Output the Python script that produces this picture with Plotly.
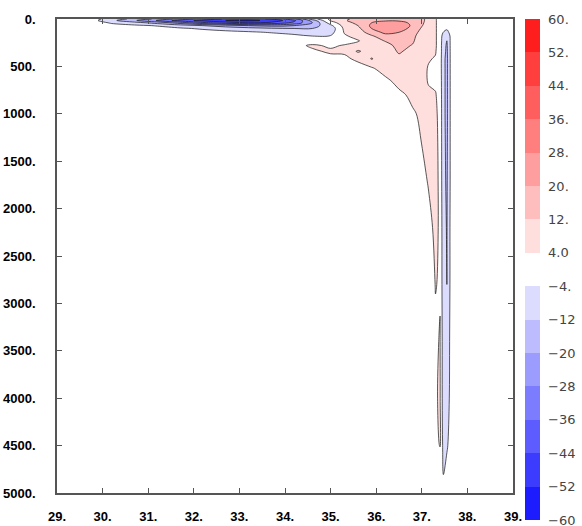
import plotly.graph_objects as go

# Longitude / latitude positions of the grid columns
X_COORDS = [29.0, 29.8, 30.2, 30.7, 31.2, 31.7, 32.2, 32.7, 33.2, 33.7, 34.2, 34.6,
            35.0, 35.3, 35.6, 35.9, 36.2, 36.5, 36.8, 37.0, 37.15, 37.3, 37.4,
            37.47, 37.55, 37.63, 37.75, 39.0]
# Depth of the grid rows (m)
DEPTHS = [0, 15, 40, 70, 100, 140, 180, 230, 280, 340, 420, 520, 650, 800, 1000,
          1300, 1700, 2200, 2800, 3400, 4000, 4500, 4800, 5000]

COL_29_0 = [0] * 24
COL_29_8 = [-1, -2] + [0] * 22
COL_30_2 = [-8, -10, -5, -1] + [0] * 20
COL_30_7 = [-14, -19, -9, -2.5] + [0] * 20
COL_31_2 = [-22, -29, -15, -4.5, -1.5] + [0] * 19
COL_31_7 = [-31, -40, -24, -8, -3] + [0] * 19
COL_32_2 = [-39, -47, -34, -12, -5, -1] + [0] * 18
COL_32_7 = [-45, -52, -40, -16, -7, -2] + [0] * 18
COL_33_2 = [-47, -54, -44, -20, -9, -3] + [0] * 18
COL_33_7 = [-43, -50, -42, -22, -11, -4.5, -1] + [0] * 17
COL_34_2 = [-30, -38, -34, -20, -12, -6, -2.5, 1, 2] + [0] * 15
COL_34_6 = [-8, -16, -20, -16, -12, -8, -4, 0, 5, 3, 1] + [0] * 13
COL_35_0 = [6, 5, 0, -6, -9, -7, -3.5, 0, 3, 5, 2] + [0] * 13
COL_35_3 = [10, 11, 9, 7, 5.5, 4.5, 3, 1.5, 4.5, 5.5, 2] + [0] * 13
COL_35_6 = [15, 16, 14, 12, 10, 8, 6.5, 3.5, 6, 13, 6] + [0] * 13
COL_35_9 = [16, 18, 20, 21.5, 20, 16, 11, 8, 7, 8, 12.5, 3] + [0] * 12
COL_36_2 = [17, 19, 23, 25, 25, 22, 17, 12.5, 9, 7.5, 7, 8, 2] + [0] * 11
COL_36_5 = [17, 19, 22.5, 24, 23, 20, 18, 16, 14.5, 13, 10, 8, 7, 2] + [0] * 10
COL_36_8 = [16, 17, 18.5, 19, 18, 16, 14, 13, 11.5, 9.5, 8, 7, 6.5, 6, 3] + [0] * 9
COL_37_0 = [14, 14, 13.5, 12.5, 11, 9, 8, 7.5, 7, 6.5, 6, 6, 6, 6, 5.5, 4.2, 2] + [0] * 7
COL_37_15 = [9, 9, 8.5, 8, 7.5, 7, 6.5, 6, 6, 5, 4.5, 3.5, 3.5, 5, 6, 6, 4.6, 2, 0.5] + [0] * 5
COL_37_3 = [5, 5, 5, 5, 5, 5, 5, 5, 5, 4.5, 3.5, 2.5, 2.5, 4.5, 5.5, 6, 6, 5.5, 4.2, 3, 3.5, 2, 0, 0]
COL_37_4 = [0, 0, 0, 0, 0, 0, 0, 0, 0, 0, 0, 0, 0.5, 1, 1.5, 2, 2.5, 3, 3.5, 4.4, 4.6, 4.3, 1, 0]
COL_37_47 = [0, 0, 0, 0, -1, -4, -7, -8, -9, -9, -10, -10, -10, -10, -10, -10, -10, -9, -9, -8, -8, -6, -4.5, 0]
COL_37_55 = [0, 0, 0, -1, -3, -6, -10, -12, -13, -13.5, -14, -14, -14, -14, -14, -13.5, -13, -12.5, -12, -10, -9, -5, -1, 0]
COL_37_63 = [0, 0, 0, 0, -1, -2, -3, -3, -3, -3, -3, -3, -3, -3, -3, -3, -3, -2.5, -2.5, -2, -1.5, -1, 0, 0]
COL_37_75 = [0] * 24
COL_39_0 = [0] * 24

COLUMNS = [COL_29_0, COL_29_8, COL_30_2, COL_30_7, COL_31_2, COL_31_7, COL_32_2, COL_32_7,
           COL_33_2, COL_33_7, COL_34_2, COL_34_6, COL_35_0, COL_35_3, COL_35_6, COL_35_9,
           COL_36_2, COL_36_5, COL_36_8, COL_37_0, COL_37_15, COL_37_3, COL_37_4, COL_37_47,
           COL_37_55, COL_37_63, COL_37_75, COL_39_0]

LEVELS = [-60, -52, -44, -36, -28, -20, -12, -4, 4, 12, 20, 28, 36, 44, 52, 60]
LEVEL_LABELS = ["\u221260", "\u221252", "\u221244", "\u221236", "\u221228", "\u221220",
                "\u221212", "\u22124.", "4.0", "12.", "20.", "28.", "36.", "44.", "52.", "60."]
X_TICKS = [29, 30, 31, 32, 33, 34, 35, 36, 37, 38, 39]
X_TICK_LABELS = ["29.", "30.", "31.", "32.", "33.", "34.", "35.", "36.", "37.", "38.", "39."]
Y_TICKS = [0, 500, 1000, 1500, 2000, 2500, 3000, 3500, 4000, 4500, 5000]
Y_TICK_LABELS = ["0.", "500.", "1000.", "1500.", "2000.", "2500.", "3000.", "3500.",
                 "4000.", "4500.", "5000."]
BAND_COLORS = ["rgb(28,28,255)", "rgb(60,60,255)", "rgb(92,92,255)", "rgb(124,124,255)",
               "rgb(156,156,255)", "rgb(188,188,255)", "rgb(220,220,255)", "rgb(255,255,255)",
               "rgb(255,222,222)", "rgb(255,190,190)", "rgb(255,158,158)", "rgb(255,126,126)",
               "rgb(255,94,94)", "rgb(255,62,62)", "rgb(255,30,30)"]

# z as rows (depth) x columns (x)
Z = [[col[i] for col in COLUMNS] for i in range(len(DEPTHS))]

# contour colorscale: plotly maps band midpoints onto [start - size/2, end + size/2]
step = LEVELS[1] - LEVELS[0]
lo = LEVELS[0] - step / 2
hi = LEVELS[-1] + step / 2
cscale = [[0.0, BAND_COLORS[0]]]
for k, c in enumerate(BAND_COLORS):
    mid = LEVELS[k] + step / 2
    cscale.append([(mid - lo) / (hi - lo), c])
cscale.append([1.0, BAND_COLORS[-1]])

# stepped colorscale for the label bar, spanning exactly the first to last level
nb = len(BAND_COLORS)
bar_scale = []
for k, c in enumerate(BAND_COLORS):
    bar_scale.append([k / nb, c])
    bar_scale.append([(k + 1) / nb, c])

fig = go.Figure()
fig.add_trace(go.Contour(
    x=X_COORDS, y=DEPTHS, z=Z,
    autocontour=False,
    contours=dict(start=LEVELS[0], end=LEVELS[-1], size=step, coloring="fill", showlines=True),
    line=dict(color="rgba(25,25,25,0.9)", width=0.8, smoothing=1.0),
    colorscale=cscale,
    showscale=False,
    hoverinfo="skip",
))

# invisible helper trace that only carries the label bar
fig.add_trace(go.Scatter(
    x=[None], y=[None], mode="markers", hoverinfo="skip", showlegend=False,
    marker=dict(
        color=[LEVELS[0]], cmin=LEVELS[0], cmax=LEVELS[-1], colorscale=bar_scale,
        showscale=True,
        colorbar=dict(
            x=1.026, xanchor="left", y=1, yanchor="top",
            lenmode="pixels", len=501, thickness=15,
            xpad=0, ypad=0, outlinewidth=0,
            tickmode="array", tickvals=LEVELS, ticktext=LEVEL_LABELS,
            ticks="outside", ticklen=6, tickcolor="rgba(0,0,0,0)",
            ticklabelposition="outside", ticklabeloverflow="allow",
            tickfont=dict(family="DejaVu Sans", size=13, color="#444"),
        ),
    ),
))

axis_common = dict(
    showline=True, linecolor="#555", linewidth=1.5, mirror="ticks",
    ticks="inside", ticklen=5, tickcolor="#555", tickwidth=1,
    showgrid=False, zeroline=False,
    tickfont=dict(family="Liberation Sans", size=13, color="black", weight="bold"),
)
fig.update_xaxes(range=[29, 39], tickmode="array", tickvals=X_TICKS, ticktext=X_TICK_LABELS,
                 ticklabelstandoff=11, **axis_common)
fig.update_yaxes(range=[5000, 0], tickmode="array", tickvals=Y_TICKS, ticktext=Y_TICK_LABELS,
                 ticklabelstandoff=17, **axis_common)

fig.update_layout(
    width=582, height=526,
    margin=dict(l=57, r=69, t=19, b=33, autoexpand=False),
    paper_bgcolor="white", plot_bgcolor="white",
    showlegend=False,
)

fig.write_html("out.html", config={"displayModeBar": False},
               post_script="document.body.style.margin='0px';")
